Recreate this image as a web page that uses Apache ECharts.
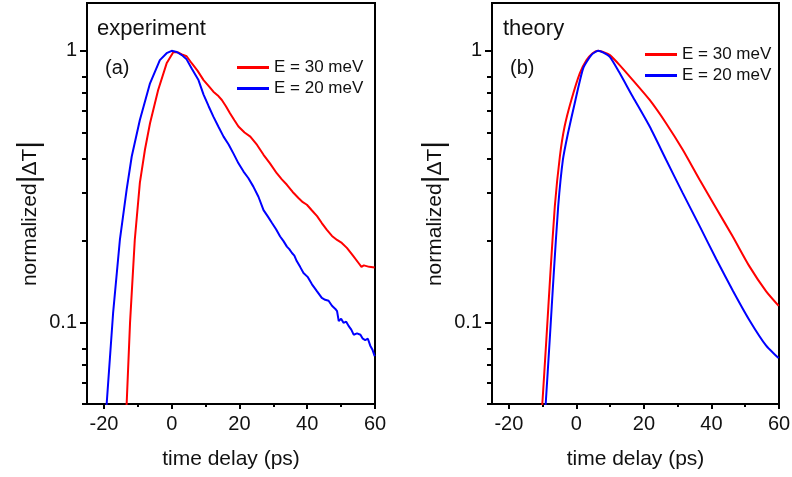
<!DOCTYPE html>
<html><head><meta charset="utf-8">
<script src="https://cdn.jsdelivr.net/npm/echarts@6/dist/echarts.min.js"></script>
<style>html,body{margin:0;padding:0;background:#fff}#c{width:792px;height:477px}</style>
</head><body><div id="c"></div>
<script>
// ---- data ----
const seriesNames = ['E = 30 meV', 'E = 20 meV'];
const panelTitles = ['experiment', 'theory'];
const panelTags = ['(a)', '(b)'];
const xTicks = [-20, 0, 20, 40, 60];
const xMinorTicks = [-10, 10, 30, 50];
const yTicks = [0.1, 1];
const yMinorTicks = [0.05, 0.06, 0.07, 0.08, 0.2, 0.3, 0.4, 0.5, 0.6, 0.7, 0.8];

// experiment, E = 30 meV
const expX30 = [-13.6, -13.3, -12.3, -10.9, -9.4, -7.9, -6.4, -4.0, -1.5, 0.5, 2.0, 3.0, 4.4, 5.9, 7.6, 9.4, 11.0, 12.3, 13.6, 14.8, 16.0, 17.2, 18.5, 19.7, 21.5, 23.2, 25.2, 27.1, 29.0, 31.0, 32.5, 34.0, 35.7, 37.4, 38.7, 39.9, 41.4, 42.9, 44.3, 45.8, 47.3, 48.8, 50.2, 51.7, 53.5, 55.2, 56.0, 56.7, 58.3, 59.9];
const expY30 = [0.045, 0.05, 0.0995, 0.201, 0.326, 0.432, 0.541, 0.717, 0.899, 0.99, 0.985, 0.97, 0.955, 0.9, 0.845, 0.78, 0.74, 0.707, 0.685, 0.659, 0.625, 0.589, 0.555, 0.526, 0.50, 0.483, 0.45, 0.414, 0.385, 0.354, 0.336, 0.321, 0.302, 0.287, 0.277, 0.271, 0.258, 0.246, 0.232, 0.219, 0.208, 0.201, 0.196, 0.188, 0.176, 0.165, 0.160, 0.162, 0.160, 0.159];

// experiment, E = 20 meV
const expX20 = [-19.5, -19.2, -17.3, -15.3, -13.3, -11.8, -9.4, -6.4, -3.5, -1.5, 0.0, 1.5, 3.0, 4.4, 5.9, 7.9, 9.4, 10.9, 12.3, 13.8, 15.3, 16.8, 18.2, 19.7, 21.2, 22.6, 24.1, 25.6, 27.1, 28.4, 29.6, 30.8, 32.0, 33.0, 34.0, 34.7, 35.5, 36.2, 36.9, 37.9, 38.9, 40.1, 41.4, 42.9, 44.3, 45.3, 46.3, 47.3, 48.3, 48.8, 49.3, 50.0, 50.7, 51.5, 52.2, 53.0, 53.7, 54.7, 55.7, 56.4, 57.1, 57.9, 58.6, 59.3, 59.9];
const expY20 = [0.045, 0.05, 0.108, 0.201, 0.308, 0.408, 0.556, 0.759, 0.924, 0.98, 1.0, 0.99, 0.964, 0.93, 0.86, 0.78, 0.69, 0.625, 0.572, 0.525, 0.483, 0.452, 0.419, 0.385, 0.359, 0.34, 0.316, 0.29, 0.259, 0.245, 0.232, 0.22, 0.207, 0.199, 0.190, 0.186, 0.180, 0.176, 0.168, 0.16, 0.152, 0.147, 0.138, 0.130, 0.123, 0.121, 0.120, 0.115, 0.112, 0.110, 0.101, 0.103, 0.0995, 0.1005, 0.097, 0.094, 0.090, 0.091, 0.090, 0.087, 0.086, 0.087, 0.082, 0.079, 0.075];

// theory, E = 30 meV
const thX30 = [-10.4, -10.1, -8.9, -7.7, -6.4, -4.9, -3.5, -1.5, 1.0, 3.0, 4.8, 6.4, 8.4, 9.9, 12.8, 16.7, 21.7, 26.6, 31.5, 36.5, 41.4, 46.3, 51.2, 56.2, 59.9];
const thY30 = [0.045, 0.05, 0.0864, 0.152, 0.267, 0.408, 0.526, 0.659, 0.826, 0.924, 0.98, 1.0, 0.985, 0.964, 0.886, 0.78, 0.659, 0.54, 0.432, 0.335, 0.263, 0.207, 0.161, 0.130, 0.115];

// theory, E = 20 meV
const thX20 = [-9.4, -9.1, -7.9, -6.7, -5.4, -4.0, -2.5, -0.5, 2.0, 4.4, 6.4, 8.0, 9.9, 12.6, 16.7, 21.7, 26.6, 31.5, 36.5, 41.4, 46.3, 51.2, 56.2, 59.9];
const thY20 = [0.045, 0.05, 0.0864, 0.152, 0.267, 0.397, 0.497, 0.641, 0.861, 0.964, 1.0, 0.985, 0.95, 0.837, 0.677, 0.526, 0.396, 0.299, 0.226, 0.171, 0.131, 0.102, 0.082, 0.0738];

// ---- chart ----
const zip = (xs, ys) => xs.map((x, i) => [x, ys[i]]);
const FONT = 'Liberation Sans';
const RED = '#ff0000', BLUE = '#0000ff', INK = '#111';
const grids = [
  {left: 87, top: 3, width: 288, height: 401},
  {left: 492, top: 3, width: 287, height: 401}
];

const xAxes = [], yAxes = [];
grids.forEach((g, gi) => {
  xAxes.push({
    type: 'value', gridIndex: gi, min: -25, max: 60, position: 'bottom',
    axisLine: {show: true, onZero: false, lineStyle: {color: '#000', width: 2}},
    axisTick: {show: true, customValues: xTicks, length: 5, lineStyle: {color: '#000', width: 2}},
    axisLabel: {customValues: xTicks, fontFamily: FONT, fontSize: 20, color: INK, margin: 10},
    splitLine: {show: false},
    name: 'time delay (ps)', nameLocation: 'middle', nameGap: 45,
    nameTextStyle: {fontFamily: FONT, fontSize: 21, color: INK}
  });
  xAxes.push({
    type: 'value', gridIndex: gi, min: -25, max: 60, position: 'bottom',
    axisLine: {show: false, onZero: false},
    axisTick: {show: true, customValues: xMinorTicks, length: 3, lineStyle: {color: '#000', width: 2}},
    axisLabel: {show: false}, splitLine: {show: false}
  });
  yAxes.push({
    type: 'log', logBase: 10, gridIndex: gi, min: 0.05, max: 1.5, position: 'left',
    axisLine: {show: true, onZero: false, lineStyle: {color: '#000', width: 2}},
    axisTick: {show: true, customValues: yTicks, length: 7, lineStyle: {color: '#000', width: 2}},
    axisLabel: {customValues: yTicks, fontFamily: FONT, fontSize: 20, color: INK, margin: 10,
      formatter: v => String(v)},
    splitLine: {show: false},
    name: 'normalized{bar||}ΔT{bar||}', nameLocation: 'middle', nameGap: 42, nameRotate: 90,
    nameTextStyle: {fontFamily: FONT, fontSize: 21, color: INK, padding: [0, 20, 0, 0],
      rich: {bar: {fontFamily: FONT, fontSize: 30, color: INK}}}
  });
  yAxes.push({
    type: 'log', logBase: 10, gridIndex: gi, min: 0.05, max: 1.5, position: 'left',
    axisLine: {show: false, onZero: false},
    axisTick: {show: true, customValues: yMinorTicks, length: 5, lineStyle: {color: '#000', width: 2}},
    axisLabel: {show: false}, splitLine: {show: false}
  });
});

const lineSeries = (name, data, color, axisIdx, smooth) => ({
  type: 'line', name, data, xAxisIndex: axisIdx, yAxisIndex: axisIdx,
  showSymbol: false, symbol: 'none', smooth: smooth, clip: true,
  lineStyle: {color, width: 2}, itemStyle: {color}, animation: false
});

const legendCommon = {
  orient: 'vertical', icon: 'rect', itemWidth: 32, itemHeight: 3, itemGap: 4, padding: 0,
  data: seriesNames, selectedMode: false,
  textStyle: {fontFamily: FONT, fontSize: 17, color: INK, lineHeight: 17}
};

const option = {
  animation: false,
  backgroundColor: '#fff',
  grid: grids.map(g => Object.assign({show: true, borderColor: '#000', borderWidth: 2,
    backgroundColor: 'transparent', containLabel: false, outerBoundsMode: 'none'}, g)),
  xAxis: xAxes,
  yAxis: yAxes,
  legend: [
    Object.assign({left: 237, top: 59}, legendCommon),
    Object.assign({left: 645, top: 46}, legendCommon)
  ],
  graphic: [
    {type: 'text', left: 97, top: 18, style: {text: panelTitles[0], font: '22px "Liberation Sans"', fill: INK}},
    {type: 'text', left: 105, top: 58, style: {text: panelTags[0], font: '20px "Liberation Sans"', fill: INK}},
    {type: 'text', left: 503, top: 18, style: {text: panelTitles[1], font: '22px "Liberation Sans"', fill: INK}},
    {type: 'text', left: 510, top: 58, style: {text: panelTags[1], font: '20px "Liberation Sans"', fill: INK}}
  ],
  series: [
    lineSeries(seriesNames[0], zip(expX30, expY30), RED, 0, false),
    lineSeries(seriesNames[1], zip(expX20, expY20), BLUE, 0, false),
    lineSeries(seriesNames[0], zip(thX30, thY30), RED, 2, 0.2),
    lineSeries(seriesNames[1], zip(thX20, thY20), BLUE, 2, 0.2)
  ]
};

const chart = echarts.init(document.getElementById('c'), null, {renderer: 'canvas'});
chart.setOption(option);
</script>
</body></html>
